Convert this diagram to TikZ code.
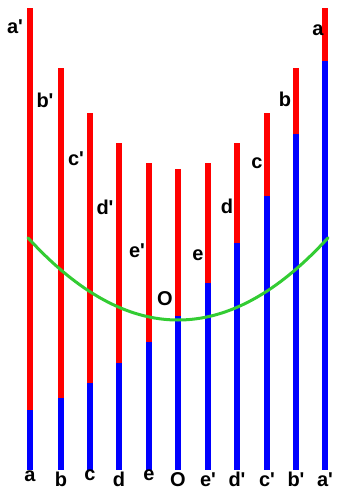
\documentclass[tikz,border=0pt]{standalone}
\usepackage{fontspec}
\setmainfont{Liberation Sans}
\definecolor{barred}{RGB}{255,0,0}
\definecolor{barblue}{RGB}{0,0,255}
\definecolor{curvegreen}{RGB}{51,204,51}
\newcommand{\pq}{\textquotesingle}
\begin{document}
\begin{tikzpicture}[x=1pt,y=-1pt,
  lbl/.style={font=\bfseries\fontsize{20}{24}\selectfont, inner sep=0pt, anchor=base},
  redpart/.style={fill=barred},
  bluepart/.style={fill=barblue},
  curve/.style={draw=curvegreen, line width=3pt, line cap=round}]
\useasboundingbox (0,0) rectangle (337,490);
% bars: x / top / split
\foreach \x/\t/\s in {30/8/410, 61/68/398, 90/113/383, 119/143/363, 149/163/342,
  178/169/316, 208/163/283, 237/143/243, 267/113/196, 296/68/134, 325/8/61}{
  \fill[redpart] (\x-3,\t) rectangle (\x+3,\s);
  \fill[bluepart] (\x-3,\s) rectangle (\x+3,470);
}
% green parabola
\draw[curve] plot[domain=28:328, samples=60, smooth] (\x,{320-80*((\x-178)/148)^2});
% top labels
\node[lbl] (ta1) at (15,33) {a\pq};
\node[lbl] (tb1) at (45,107) {b\pq};
\node[lbl] (tc1) at (76,165) {c\pq};
\node[lbl] (td1) at (105,214) {d\pq};
\node[lbl] (te1) at (137,257) {e\pq};
\node[lbl] (tO) at (165,305) {O};
\node[lbl] (te) at (198,260) {e};
\node[lbl] (td) at (227,213) {d};
\node[lbl] (tc) at (257,168) {c};
\node[lbl] (tb) at (285,106) {b};
\node[lbl] (ta) at (318,35) {a};
% bottom labels
\node[lbl] (ba) at (30,481) {a};
\node[lbl] (bb) at (61,486) {b};
\node[lbl] (bc) at (90,480) {c};
\node[lbl] (bd) at (119,486) {d};
\node[lbl] (be) at (149,480) {e};
\node[lbl] (bO) at (178,486) {O};
\node[lbl] (be1) at (208,486) {e\pq};
\node[lbl] (bd1) at (237,486) {d\pq};
\node[lbl] (bc1) at (267,486) {c\pq};
\node[lbl] (bb1) at (296,486) {b\pq};
\node[lbl] (ba1) at (325,486) {a\pq};
\end{tikzpicture}
\end{document}
